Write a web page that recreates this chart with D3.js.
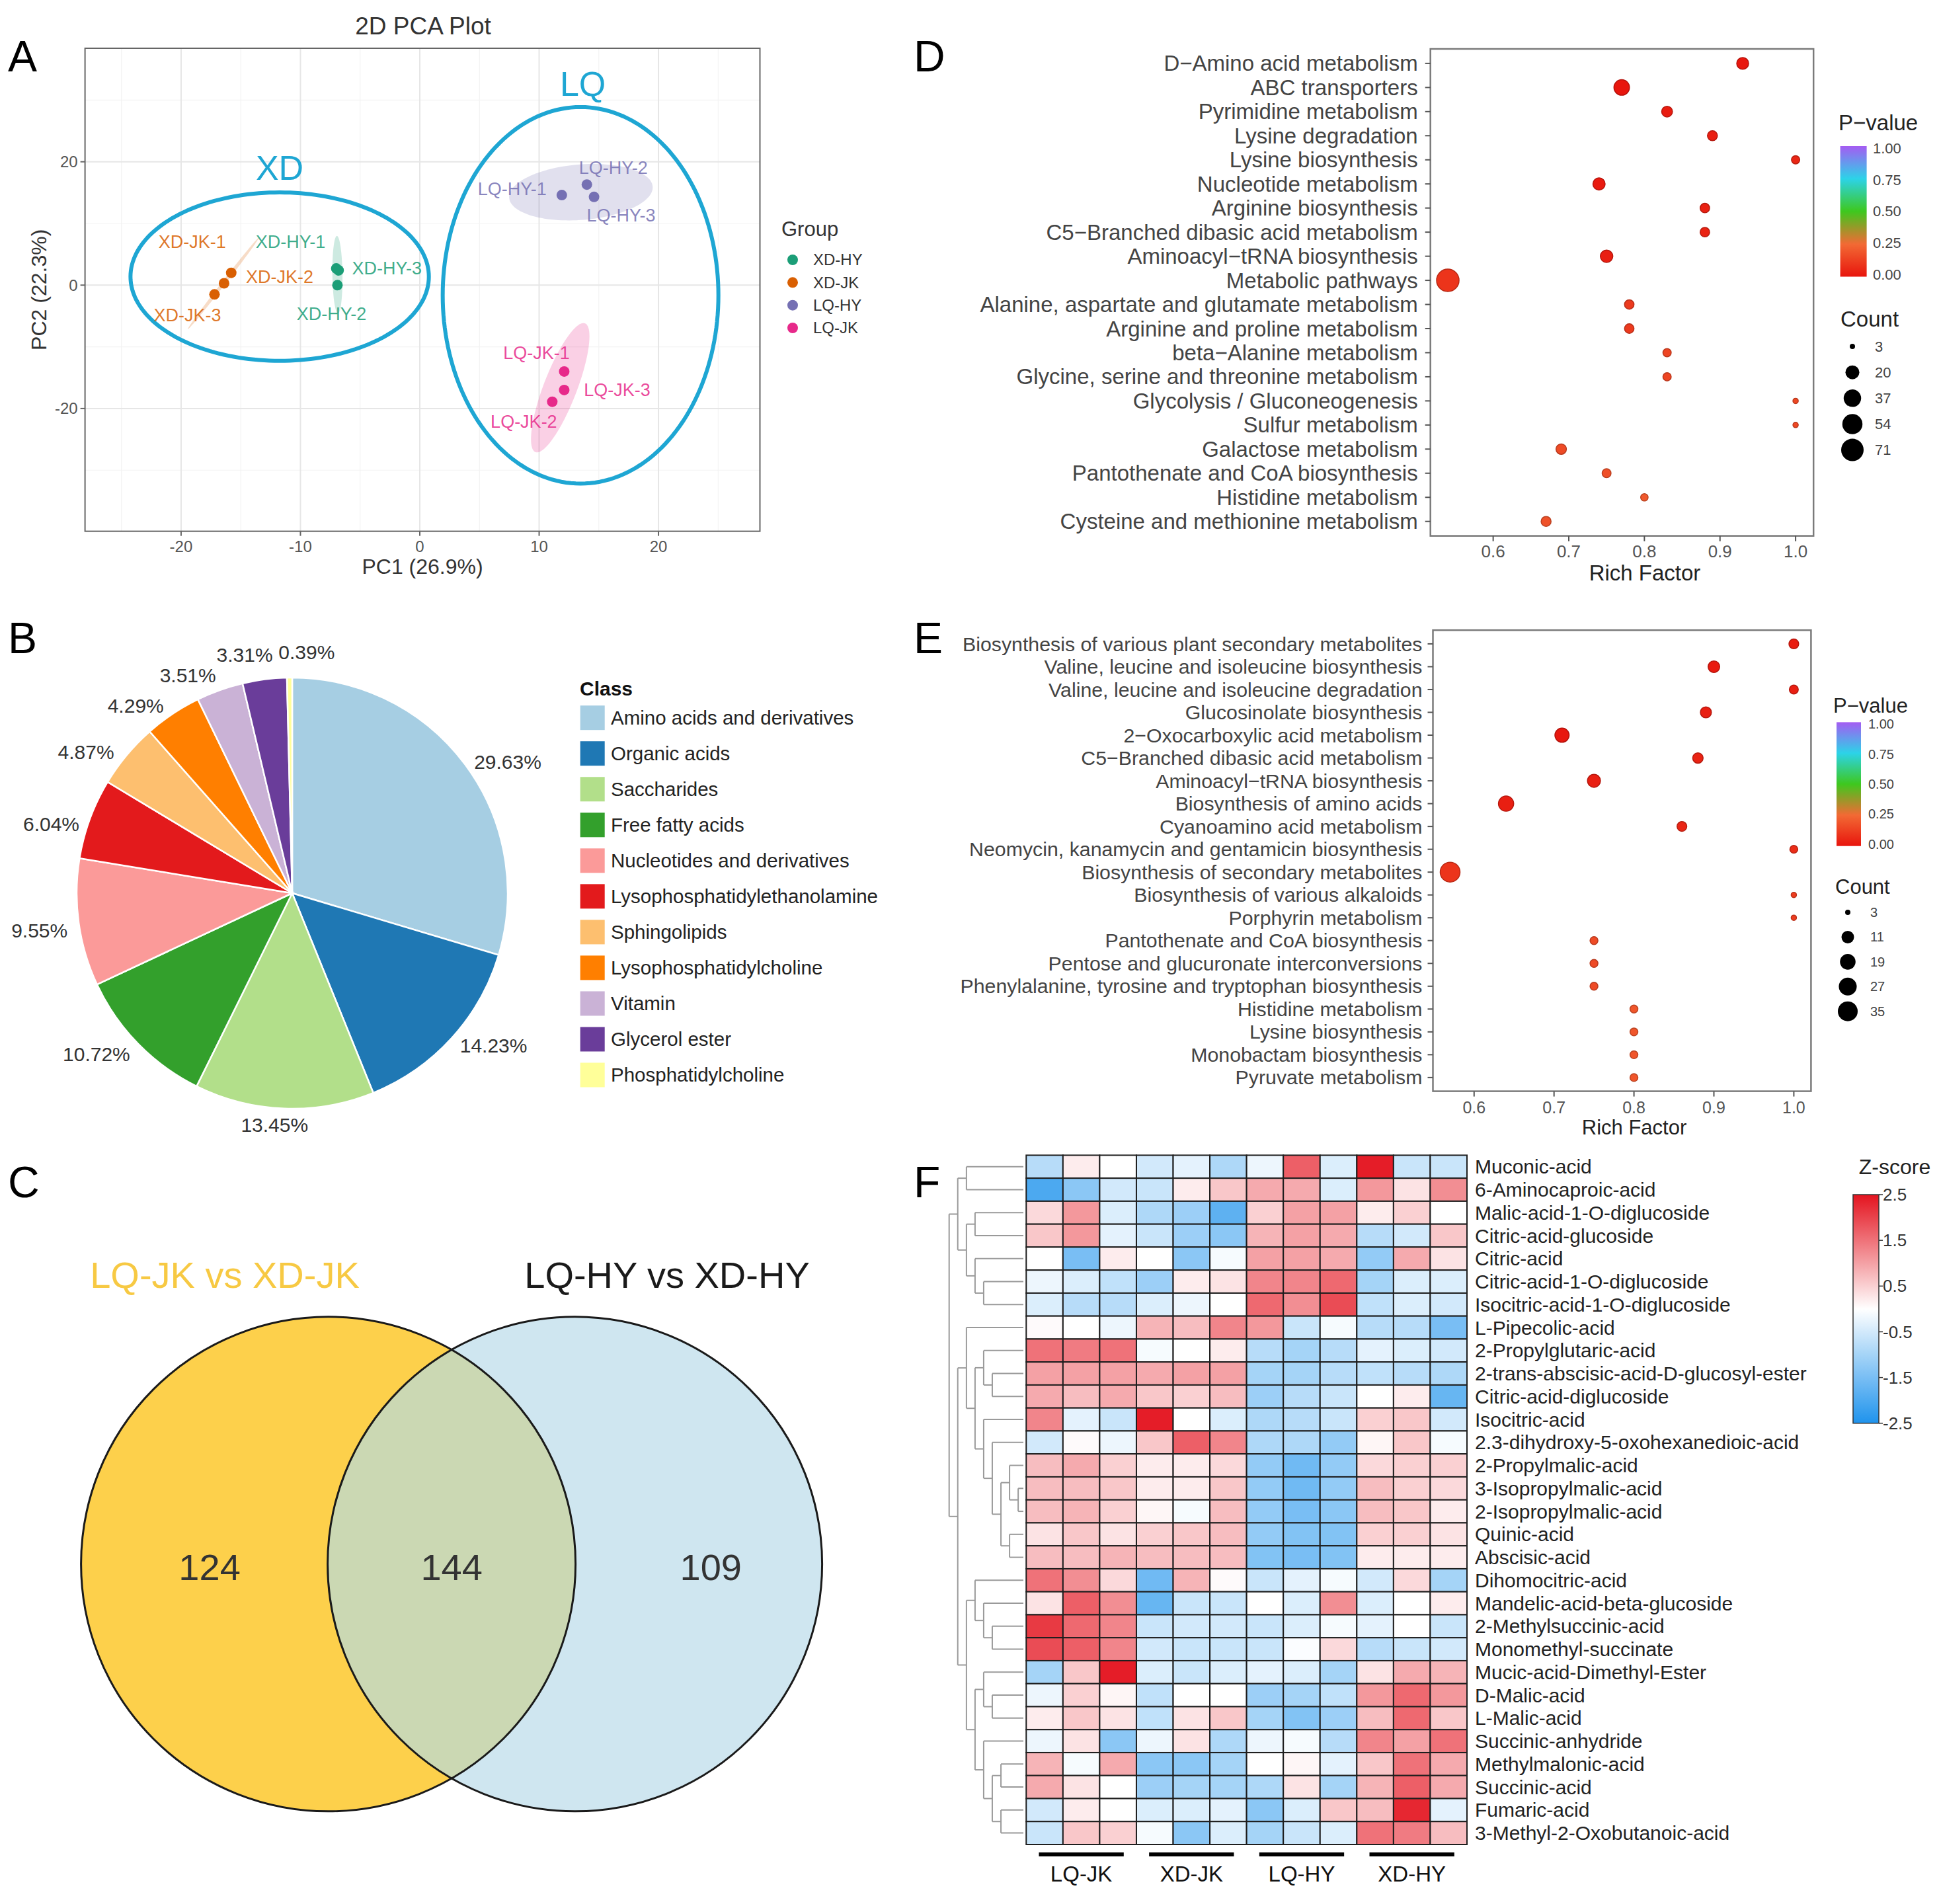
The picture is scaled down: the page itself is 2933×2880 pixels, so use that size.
<!DOCTYPE html>
<html>
<head>
<meta charset="utf-8">
<script src="https://cdn.jsdelivr.net/npm/d3@7/dist/d3.min.js"></script>
<style>
html,body{margin:0;padding:0;background:#fff;}
svg{display:block;}
text{font-family:"Liberation Sans",Arial,Helvetica,sans-serif;}
</style>
</head>
<body>
<svg id="fig" width="2933" height="2880" xmlns="http://www.w3.org/2000/svg"></svg>
<script>
/* ================= DATA ================= */
// Panel A – PCA
const pcaSamples = ["XD-JK-1","XD-JK-2","XD-JK-3","XD-HY-1","XD-HY-2","XD-HY-3","LQ-HY-1","LQ-HY-2","LQ-HY-3","LQ-JK-1","LQ-JK-2","LQ-JK-3"];
const pcaSampleGroup = ["XD-JK","XD-JK","XD-JK","XD-HY","XD-HY","XD-HY","LQ-HY","LQ-HY","LQ-HY","LQ-JK","LQ-JK","LQ-JK"];
const pcaPC1 = [-15.8,-16.4,-17.2,-7.0,-6.9,-6.8,11.9,14.0,14.6,12.1,11.1,12.1];
const pcaPC2 = [2.0,0.3,-1.5,2.7,0.0,2.4,14.6,16.3,14.3,-14.0,-18.9,-17.0];
const pcaGroups = ["XD-HY","XD-JK","LQ-HY","LQ-JK"];
const pcaTicksX = [-20,-10,0,10,20];
const pcaTicksY = [-20,0,20];
const pcaClusters = ["XD","LQ"];

// Panel B – class composition
const pieClasses = ["Amino acids and derivatives","Organic acids","Saccharides","Free fatty acids","Nucleotides and derivatives","Lysophosphatidylethanolamine","Sphingolipids","Lysophosphatidylcholine","Vitamin","Glycerol ester","Phosphatidylcholine"];
const pieShares = [29.63,14.23,13.45,10.72,9.55,6.04,4.87,4.29,3.51,3.31,0.39];

// Panel C – Venn
const vennSets = ["LQ-JK vs XD-JK","LQ-HY vs XD-HY"];
const vennCounts = [124,144,109]; // left only, shared, right only

// Panel D – KEGG enrichment (JK)
const dPathways = ["D\u2212Amino acid metabolism","ABC transporters","Pyrimidine metabolism","Lysine degradation","Lysine biosynthesis","Nucleotide metabolism","Arginine biosynthesis","C5\u2212Branched dibasic acid metabolism","Aminoacyl\u2212tRNA biosynthesis","Metabolic pathways","Alanine, aspartate and glutamate metabolism","Arginine and proline metabolism","beta\u2212Alanine metabolism","Glycine, serine and threonine metabolism","Glycolysis / Gluconeogenesis","Sulfur metabolism","Galactose metabolism","Pantothenate and CoA biosynthesis","Histidine metabolism","Cysteine and methionine metabolism"];
const dRich = [0.93,0.77,0.83,0.89,1.0,0.74,0.88,0.88,0.75,0.54,0.78,0.78,0.83,0.83,1.0,1.0,0.69,0.75,0.80,0.67];
const dCount = [13,27,10,8,5,14,7,7,15,71,7,7,5,5,3,3,9,6,4,8];
const dPvalue = [0.005,0.002,0.02,0.03,0.05,0.015,0.035,0.04,0.03,0.09,0.11,0.11,0.14,0.14,0.15,0.15,0.16,0.17,0.20,0.18];
const dCountBreaks = [3,20,37,54,71];

// Panel E – KEGG enrichment (HY)
const ePathways = ["Biosynthesis of various plant secondary metabolites","Valine, leucine and isoleucine biosynthesis","Valine, leucine and isoleucine degradation","Glucosinolate biosynthesis","2\u2212Oxocarboxylic acid metabolism","C5\u2212Branched dibasic acid metabolism","Aminoacyl\u2212tRNA biosynthesis","Biosynthesis of amino acids","Cyanoamino acid metabolism","Neomycin, kanamycin and gentamicin biosynthesis","Biosynthesis of secondary metabolites","Biosynthesis of various alkaloids","Porphyrin metabolism","Pantothenate and CoA biosynthesis","Pentose and glucuronate interconversions","Phenylalanine, tyrosine and tryptophan biosynthesis","Histidine metabolism","Lysine biosynthesis","Monobactam biosynthesis","Pyruvate metabolism"];
const eRich = [1.0,0.90,1.0,0.89,0.71,0.88,0.75,0.64,0.86,1.0,0.57,1.0,1.0,0.75,0.75,0.75,0.80,0.80,0.80,0.80];
const eCount = [6,9,5,8,15,7,12,18,6,4,35,3,3,4,4,4,4,4,4,4];
const ePvalue = [0.02,0.015,0.03,0.03,0.01,0.04,0.03,0.03,0.05,0.07,0.09,0.12,0.12,0.16,0.16,0.16,0.19,0.19,0.19,0.19];
const eCountBreaks = [3,11,19,27,35];

const pBreaks = [0,0.25,0.5,0.75,1];
const richTicks = [0.6,0.7,0.8,0.9,1.0];

// Panel F – heatmap
const fMetabolites = ["Muconic-acid","6-Aminocaproic-acid","Malic-acid-1-O-diglucoside","Citric-acid-glucoside","Citric-acid","Citric-acid-1-O-diglucoside","Isocitric-acid-1-O-diglucoside","L-Pipecolic-acid","2-Propylglutaric-acid","2-trans-abscisic-acid-D-glucosyl-ester","Citric-acid-diglucoside","Isocitric-acid","2.3-dihydroxy-5-oxohexanedioic-acid","2-Propylmalic-acid","3-Isopropylmalic-acid","2-Isopropylmalic-acid","Quinic-acid","Abscisic-acid","Dihomocitric-acid","Mandelic-acid-beta-glucoside","2-Methylsuccinic-acid","Monomethyl-succinate","Mucic-acid-Dimethyl-Ester","D-Malic-acid","L-Malic-acid","Succinic-anhydride","Methylmalonic-acid","Succinic-acid","Fumaric-acid","3-Methyl-2-Oxobutanoic-acid"];
const fGroups = ["LQ-JK","XD-JK","LQ-HY","XD-HY"];
const fZ = [
 [-0.8,0.2,0.0,-0.5,-0.3,-0.9,-0.2,1.7,-0.4,2.4,-0.6,-0.6],
 [-2.0,-1.3,-0.5,-0.6,0.2,0.6,0.9,0.9,-0.4,1.1,0.3,1.2],
 [0.4,1.1,-0.4,-0.9,-1.1,-1.8,0.5,1.0,1.0,0.2,0.5,0.0],
 [0.6,1.1,-0.3,-0.6,-1.1,-1.3,0.8,1.0,0.9,-0.8,-0.5,0.6],
 [0.0,-1.5,0.2,0.0,-1.3,-0.1,1.0,1.0,0.9,-1.2,0.9,0.3],
 [-0.2,-0.4,-0.7,-1.1,0.2,0.3,1.3,1.3,1.6,-1.0,-0.4,-0.4],
 [-0.4,-0.8,-0.8,-0.4,-0.2,0.0,1.6,1.2,1.9,-0.7,-0.4,-0.5],
 [0.05,0.0,-0.2,0.8,0.7,1.3,1.1,-0.6,-0.1,-0.8,-0.8,-1.5],
 [1.5,1.4,1.5,-0.1,0.0,0.2,-0.8,-1.0,-0.8,-0.3,-0.4,-0.5],
 [1.0,1.0,1.0,0.9,1.0,1.0,-1.0,-1.0,-0.8,-0.7,-0.8,-0.9],
 [0.9,0.7,0.9,0.6,0.5,0.7,-1.1,-0.8,-0.6,0.0,0.2,-1.7],
 [1.3,-0.3,-0.6,2.4,0.0,-0.4,-0.9,-0.8,-0.6,0.5,0.6,-0.5],
 [-0.5,0.05,-0.2,0.6,1.7,1.3,-0.9,-0.9,-1.2,0.1,0.6,-0.1],
 [0.7,0.9,0.5,0.2,0.2,0.4,-1.2,-1.6,-1.2,0.4,0.5,0.5],
 [0.7,0.7,0.6,0.2,0.2,0.6,-1.2,-1.6,-1.2,0.7,0.5,0.4],
 [0.7,0.8,0.5,0.1,-0.1,0.7,-1.2,-1.5,-1.3,0.7,0.6,0.2],
 [0.3,0.6,0.3,0.5,0.6,0.7,-1.2,-1.4,-1.4,0.5,0.5,0.3],
 [0.7,0.7,0.8,0.7,0.7,0.7,-1.4,-1.5,-1.4,0.2,0.2,0.2],
 [1.5,1.2,0.4,-1.6,0.8,0.05,-0.6,-0.3,-0.1,-0.5,0.4,-1.0],
 [0.3,1.7,1.2,-1.7,-0.6,-0.6,0.0,-0.4,1.2,-0.4,0.0,0.2],
 [2.1,1.6,1.3,-0.6,-0.5,-0.5,-0.6,-0.4,-0.1,-0.3,0.0,-0.6],
 [1.9,1.7,1.3,-0.5,-0.6,-0.6,-0.6,-0.05,0.4,-0.8,-0.6,-0.5],
 [-1.0,0.6,2.4,-0.4,-0.6,-0.4,-0.3,-0.4,-1.0,0.3,0.9,0.8],
 [-0.2,0.5,0.1,-0.7,0.0,0.0,-1.1,-1.0,-0.7,1.1,1.6,1.1],
 [0.2,0.6,0.3,-0.7,0.3,0.6,-1.0,-1.4,-1.1,0.7,1.6,0.6],
 [-0.2,0.3,-1.3,-0.2,0.3,-0.9,-0.2,-0.1,-0.8,1.3,1.0,1.5],
 [0.8,-0.1,0.9,-1.3,-1.3,-1.0,0.0,0.1,-0.3,0.6,1.5,0.9],
 [0.9,0.3,0.0,-1.1,-1.0,-1.0,-0.9,0.3,-1.0,0.8,1.7,0.9],
 [-0.5,0.2,0.0,-0.4,-0.4,-0.3,-1.3,-0.4,0.6,0.7,2.3,-0.3],
 [-0.6,0.6,0.5,-0.1,-1.3,-0.4,-1.0,-0.6,-0.4,1.5,1.4,0.7]
];
const zBreaks = [2.5,1.5,0.5,-0.5,-1.5,-2.5];
// row dendrogram (leaf = row index, h = relative merge height)
const fTree = {h:1.0,c:[
  {h:0.884,c:[{h:0.767,c:[0,1]},{h:0.767,c:[{h:0.651,c:[2,3]},{h:0.651,c:[4,{h:0.535,c:[5,6]}]}]}]},
  {h:0.884,c:[
    {h:0.767,c:[7,{h:0.651,c:[{h:0.535,c:[8,{h:0.419,c:[9,10]}]},{h:0.535,c:[11,{h:0.419,c:[12,{h:0.302,c:[{h:0.186,c:[13,{h:0.07,c:[14,15]}]},{h:0.186,c:[16,17]}]}]}]}]}]},
    {h:0.767,c:[
      {h:0.651,c:[18,{h:0.535,c:[19,{h:0.419,c:[20,21]}]}]},
      {h:0.651,c:[{h:0.535,c:[22,{h:0.419,c:[23,24]}]},{h:0.535,c:[25,{h:0.419,c:[{h:0.302,c:[26,27]},{h:0.302,c:[28,29]}]}]}]}
    ]}
  ]}
]};

/* ================= STYLE / LAYOUT ================= */
const groupColors = {"XD-HY":"#1b9e77","XD-JK":"#d95f02","LQ-HY":"#7570b3","LQ-JK":"#e7298a"};
const pieColors = ["#a6cee3","#1f78b4","#b2df8a","#33a02c","#fb9a99","#e31a1c","#fdbf6f","#ff7f00","#cab2d6","#6a3d9a","#ffff99"];
const pColorStops = ["#e8150d","#f26a34","#3ec81e","#2cd3e8","#a45cf2"];
const clusterColor = "#1ea6d3";
const TXT = "#3a3a3a";

const svg = d3.select("#fig");
const defs = svg.append("defs");
svg.append("rect").attr("width",2933).attr("height",2880).attr("fill","#fff");

function text(g,x,y,s,o={}){
  const t=g.append("text").attr("x",x).attr("y",y).text(s)
    .attr("font-size",o.size||24).attr("fill",o.fill||TXT)
    .attr("text-anchor",o.anchor||"start");
  if(o.weight) t.attr("font-weight",o.weight);
  if(o.dy) t.attr("dy",o.dy);
  if(o.transform) t.attr("transform",o.transform);
  return t;
}

// panel letters
const panelLetters=["A","B","C","D","E","F"];
const panelLetterPos=[[12,108],[12,988],[12,1811],[1382,108],[1382,988],[1382,1811]];
panelLetters.forEach((L,i)=>text(svg,panelLetterPos[i][0],panelLetterPos[i][1],L,{size:66,fill:"#000"}));

/* ================= PANEL A ================= */
(function(){
  const g=svg.append("g");
  const box={x0:128.6,x1:1149.5,y0:73,y1:803.6};
  const x=d3.scaleLinear().domain([-28.05,28.5]).range([box.x0,box.x1]);
  const y=d3.scaleLinear().domain([-39.9,38.4]).range([box.y1,box.y0]);
  defs.append("clipPath").attr("id","clipA").append("rect")
    .attr("x",box.x0).attr("y",box.y0).attr("width",box.x1-box.x0).attr("height",box.y1-box.y0);
  const pg=g.append("g").attr("clip-path","url(#clipA)");
  // grid
  [-25,-15,-5,5,15,25].forEach(v=>pg.append("line").attr("x1",x(v)).attr("x2",x(v)).attr("y1",box.y0).attr("y2",box.y1).attr("stroke","#f3f3f3").attr("stroke-width",1.2));
  [-30,-10,10,30].forEach(v=>pg.append("line").attr("y1",y(v)).attr("y2",y(v)).attr("x1",box.x0).attr("x2",box.x1).attr("stroke","#f3f3f3").attr("stroke-width",1.2));
  pcaTicksX.forEach(v=>pg.append("line").attr("x1",x(v)).attr("x2",x(v)).attr("y1",box.y0).attr("y2",box.y1).attr("stroke","#e6e6e6").attr("stroke-width",2));
  pcaTicksY.forEach(v=>pg.append("line").attr("y1",y(v)).attr("y2",y(v)).attr("x1",box.x0).attr("x2",box.x1).attr("stroke","#e6e6e6").attr("stroke-width",2));

  const K=Math.sqrt(18); // sqrt(2*qf(0.90,2,2))
  function ellipse(xs,ys){
    const n=xs.length,mx=d3.mean(xs),my=d3.mean(ys);
    let sxx=0,syy=0,sxy=0;
    for(let i=0;i<n;i++){const dx=xs[i]-mx,dy=ys[i]-my;sxx+=dx*dx;syy+=dy*dy;sxy+=dx*dy;}
    sxx/=(n-1);syy/=(n-1);sxy/=(n-1);
    const tr=sxx+syy,det=sxx*syy-sxy*sxy,disc=Math.sqrt(Math.max(tr*tr/4-det,0));
    const l1=tr/2+disc,l2=Math.max(tr/2-disc,0);
    let vx,vy; if(Math.abs(sxy)>1e-12){vx=l1-syy;vy=sxy;} else if(sxx>=syy){vx=1;vy=0;} else {vx=0;vy=1;}
    const nm=Math.hypot(vx,vy);vx/=nm;vy/=nm;
    const a=K*Math.sqrt(l1),b=K*Math.sqrt(l2);
    return d3.range(0,121).map(i=>{const t=2*Math.PI*i/120,c=Math.cos(t),s=Math.sin(t);
      return [mx+a*c*vx-b*s*vy, my+a*c*vy+b*s*vx];});
  }
  const line=d3.line().x(d=>x(d[0])).y(d=>y(d[1]));
  pcaGroups.forEach(gr=>{
    const idx=pcaSampleGroup.map((s,i)=>s===gr?i:-1).filter(i=>i>=0);
    const pts=ellipse(idx.map(i=>pcaPC1[i]),idx.map(i=>pcaPC2[i]));
    pg.append("path").attr("d",line(pts)+"Z").attr("fill",groupColors[gr]).attr("fill-opacity",0.22).attr("stroke","none");
  });
  // cluster annotation ellipses (data units)
  const clusterShape={XD:{cx:-11.74,cy:1.38,rx:12.5,ry:13.65,lx:-11.74,ly:19.1},LQ:{cx:13.47,cy:-1.65,rx:11.55,ry:30.52,lx:13.66,ly:32.65}};
  pcaClusters.forEach(k=>{
    const s=clusterShape[k];
    const pts=d3.range(0,181).map(i=>{const t=2*Math.PI*i/180;return [s.cx+s.rx*Math.cos(t),s.cy+s.ry*Math.sin(t)];});
    pg.append("path").attr("d",line(pts)+"Z").attr("fill","none").attr("stroke",clusterColor).attr("stroke-width",6);
    text(g,x(s.lx),y(s.ly),k,{size:52,fill:clusterColor,anchor:"middle",dy:"0.36em"});
  });
  // points
  pcaSamples.forEach((s,i)=>{
    pg.append("circle").attr("cx",x(pcaPC1[i])).attr("cy",y(pcaPC2[i])).attr("r",8).attr("fill",groupColors[pcaSampleGroup[i]]);
  });
  const pcaLabelOffset=[[-59,-47],[84,-10],[-41,31],[-69,-41],[-9,43],[73,-3],[-75,-10],[40,-26],[41,28],[-42,-28],[-43,30],[80,0]];
  pcaSamples.forEach((s,i)=>{
    const px=x(pcaPC1[i]),py=y(pcaPC2[i]),o=pcaLabelOffset[i];
    text(g,px+o[0],py+o[1],s,{size:27,fill:groupColors[pcaSampleGroup[i]],anchor:"middle",dy:"0.35em"}).attr("fill-opacity",0.85);
  });
  // frame
  g.append("rect").attr("x",box.x0).attr("y",box.y0).attr("width",box.x1-box.x0).attr("height",box.y1-box.y0).attr("fill","none").attr("stroke","#666").attr("stroke-width",2);
  pcaTicksX.forEach(v=>{
    g.append("line").attr("x1",x(v)).attr("x2",x(v)).attr("y1",box.y1).attr("y2",box.y1+7).attr("stroke","#666").attr("stroke-width",2);
    text(g,x(v),box.y1+31,v===0?"0":String(v),{size:24,fill:"#555",anchor:"middle"});
  });
  pcaTicksY.forEach(v=>{
    g.append("line").attr("x1",box.x0-7).attr("x2",box.x0).attr("y1",y(v)).attr("y2",y(v)).attr("stroke","#666").attr("stroke-width",2);
    text(g,box.x0-11,y(v),String(v),{size:24,fill:"#555",anchor:"end",dy:"0.35em"});
  });
  text(g,(box.x0+box.x1)/2,868,"PC1 (26.9%)",{size:32,fill:"#333",anchor:"middle"});
  text(g,0,0,"PC2 (22.3%)",{size:32,fill:"#333",anchor:"middle",transform:`translate(70,${(box.y0+box.y1)/2}) rotate(-90)`});
  text(g,640,52,"2D PCA Plot",{size:37,fill:"#333",anchor:"middle"});
  // legend
  text(g,1182,357,"Group",{size:31,fill:"#333"});
  const legY=d3.scalePoint().domain(pcaGroups).range([393,496]);
  pcaGroups.forEach(gr=>{
    g.append("circle").attr("cx",1199).attr("cy",legY(gr)).attr("r",8).attr("fill",groupColors[gr]);
    text(g,1230,legY(gr),gr,{size:24,fill:"#333",dy:"0.35em"});
  });
})();

/* ================= PANEL B ================= */
(function(){
  const g=svg.append("g");
  const cx=442,cy=1351,R=326;
  const arcs=d3.pie().sort(null).value(d=>d)(pieShares);
  const arc=d3.arc().innerRadius(0).outerRadius(R);
  g.selectAll("path.sl").data(arcs).join("path").attr("class","sl")
    .attr("transform",`translate(${cx},${cy})`).attr("d",arc)
    .attr("fill",(d,i)=>pieColors[i]).attr("stroke","#fff").attr("stroke-width",2.5);
  const nudge=[[0,6],[0,0],[-14,8],[0,4],[0,10],[0,14],[-6,6],[-4,2],[0,-6],[-28,-20],[26,-22]];
  const RL=343;
  arcs.forEach((d,i)=>{
    const a=(d.startAngle+d.endAngle)/2, s=Math.sin(a), c=Math.cos(a);
    const anchor = s>0.3?"start":(s<-0.14?"end":"middle");
    text(g,cx+RL*s+nudge[i][0],cy-RL*c+nudge[i][1],pieShares[i].toFixed(2)+"%",{size:30,fill:"#333",anchor:anchor,dy:"0.35em"});
  });
  // legend
  text(g,877,1052,"Class",{size:30,fill:"#111",weight:"bold"});
  const ly=d3.scalePoint().domain(pieClasses).range([1085.7,1626]);
  pieClasses.forEach((c,i)=>{
    g.append("rect").attr("x",877.7).attr("y",ly(c)-18.5).attr("width",37).attr("height",37).attr("fill",pieColors[i]);
    text(g,924,ly(c),c,{size:29.5,fill:"#222",dy:"0.35em"});
  });
})();

/* ================= PANEL C ================= */
(function(){
  const g=svg.append("g");
  const R=374, c1=[496.6,2365.8], c2=[869.6,2365.8];
  defs.append("clipPath").attr("id","clipVennL").append("circle").attr("cx",c1[0]).attr("cy",c1[1]).attr("r",R);
  g.append("circle").attr("cx",c1[0]).attr("cy",c1[1]).attr("r",R).attr("fill","#FDD04B");
  g.append("circle").attr("cx",c2[0]).attr("cy",c2[1]).attr("r",R).attr("fill","#CFE6F0");
  g.append("circle").attr("cx",c2[0]).attr("cy",c2[1]).attr("r",R).attr("fill","#CBD8B3").attr("clip-path","url(#clipVennL)");
  [c1,c2].forEach(c=>g.append("circle").attr("cx",c[0]).attr("cy",c[1]).attr("r",R).attr("fill","none").attr("stroke","#1a1a1a").attr("stroke-width",3));
  text(g,340,1948,vennSets[0],{size:56,fill:"#F7C943",anchor:"middle"});
  text(g,1009,1948,vennSets[1],{size:56,fill:"#1a1a1a",anchor:"middle"});
  const pos=[c1[0]-0.48*R,(c1[0]+c2[0])/2,c2[0]+0.55*R];
  vennCounts.forEach((v,i)=>text(g,pos[i],c1[1]+5,String(v),{size:56,fill:"#333",anchor:"middle",dy:"0.35em"}));
})();

/* ================= PANELS D & E ================= */
const pColor=d3.scaleLinear().domain(pBreaks).range(pColorStops);
function drawEnrich(cfg){
  const g=svg.append("g");
  const [x0,y0,x1,y1]=cfg.box;
  const x=d3.scaleLinear().domain(cfg.xDomain).range([x0,x1]);
  const y=d3.scalePoint().domain(cfg.cats).range([y0,y1]).padding(0.6);
  const cmin=d3.min(cfg.countBreaks),cmax=d3.max(cfg.countBreaks);
  const r=c=>cfg.rRange[0]+(cfg.rRange[1]-cfg.rRange[0])*Math.sqrt((c-cmin)/(cmax-cmin));
  g.append("rect").attr("x",x0).attr("y",y0).attr("width",x1-x0).attr("height",y1-y0).attr("fill","#fff").attr("stroke","#7a7a7a").attr("stroke-width",2.5);
  cfg.cats.forEach((c,i)=>{
    g.append("line").attr("x1",x0-8).attr("x2",x0).attr("y1",y(c)).attr("y2",y(c)).attr("stroke","#555").attr("stroke-width",2);
    text(g,x0-cfg.labelGap,y(c),c,{size:cfg.labelSize,fill:"#444",anchor:"end",dy:"0.35em"});
  });
  richTicks.forEach(v=>{
    g.append("line").attr("x1",x(v)).attr("x2",x(v)).attr("y1",y1).attr("y2",y1+8).attr("stroke","#555").attr("stroke-width",2);
    text(g,x(v),cfg.tickY,v.toFixed(1),{size:cfg.tickSize,fill:"#555",anchor:"middle"});
  });
  text(g,cfg.titleX,cfg.titleY,"Rich Factor",{size:cfg.titleSize,fill:"#222",anchor:"middle"});
  cfg.cats.forEach((c,i)=>{
    const col=pColor(cfg.p[i]);
    g.append("circle").attr("cx",x(cfg.rich[i])).attr("cy",y(c)).attr("r",r(cfg.count[i]))
      .attr("fill",col).attr("stroke",d3.color(col).darker(0.7)).attr("stroke-width",1.5);
  });
  // legend: p-value colorbar
  const L=cfg.leg;
  text(g,L.px,L.pTitleY,"P\u2212value",{size:L.titleSize,fill:"#222"});
  const gid="grad"+cfg.id;
  const grad=defs.append("linearGradient").attr("id",gid).attr("x1",0).attr("y1",1).attr("x2",0).attr("y2",0);
  pBreaks.forEach(b=>grad.append("stop").attr("offset",b).attr("stop-color",pColor(b)));
  g.append("rect").attr("x",L.barX).attr("y",L.barY0).attr("width",L.barW).attr("height",L.barY1-L.barY0).attr("fill",`url(#${gid})`);
  const py=d3.scaleLinear().domain([0,1]).range([L.barY1-3,L.barY0+3]);
  pBreaks.forEach(b=>text(g,L.labX,py(b),b.toFixed(2),{size:L.labSize,fill:"#444",dy:"0.35em"}));
  text(g,L.px+3,L.cTitleY,"Count",{size:L.titleSize,fill:"#222"});
  const cy=d3.scalePoint().domain(cfg.countBreaks).range([L.cY0,L.cY1]);
  cfg.countBreaks.forEach(b=>{
    g.append("circle").attr("cx",L.dotX).attr("cy",cy(b)).attr("r",r(b)).attr("fill","#000");
    text(g,L.cLabX,cy(b),String(b),{size:L.labSize,fill:"#444",dy:"0.35em"});
  });
}
drawEnrich({id:"D",cats:dPathways,rich:dRich,count:dCount,p:dPvalue,countBreaks:dCountBreaks,
  box:[2163.7,74,2743.2,810.6],xDomain:[0.517,1.0237],rRange:[4,17],labelSize:33,labelGap:19,tickSize:26,tickY:843,
  titleX:2488,titleY:878,titleSize:33,
  leg:{px:2781,pTitleY:197,titleSize:33,barX:2783.6,barW:40,barY0:221,barY1:418.5,labX:2833,labSize:22,
       cTitleY:494,cY0:524,cY1:680.6,dotX:2802,cLabX:2836}});
drawEnrich({id:"E",cats:ePathways,rich:eRich,count:eCount,p:ePvalue,countBreaks:eCountBreaks,
  box:[2167.5,953.2,2739.4,1650.6],xDomain:[0.5485,1.0215],rRange:[4,15],labelSize:30.3,labelGap:16,tickSize:25,tickY:1684,
  titleX:2472,titleY:1716,titleSize:31,
  leg:{px:2773,pTitleY:1078,titleSize:31,barX:2778,barW:37,barY0:1092.4,barY1:1279.7,labX:2826,labSize:20,
       cTitleY:1352,cY0:1380,cY1:1529.7,dotX:2795,cLabX:2829}});

/* ================= PANEL F ================= */
(function(){
  const g=svg.append("g");
  const nCol=fZ[0].length;
  const X0=1552.3,X1=2219,Y0=1747.4,Y1=2790;
  const x=d3.scaleBand().domain(d3.range(nCol)).range([X0,X1]);
  const y=d3.scaleBand().domain(d3.range(fMetabolites.length)).range([Y0,Y1]);
  const zc=d3.scaleLinear().domain([-2.5,0,2.5]).range(["#1F93EC","#FFFFFF","#E4141F"]).clamp(true);
  fZ.forEach((row,i)=>row.forEach((v,j)=>{
    g.append("rect").attr("x",x(j)).attr("y",y(i)).attr("width",x.bandwidth()).attr("height",y.bandwidth())
      .attr("fill",zc(v)).attr("stroke","#1e1e1e").attr("stroke-width",2);
  }));
  fMetabolites.forEach((m,i)=>text(g,2231,y(i)+y.bandwidth()/2,m,{size:30,fill:"#222",dy:"0.35em"}));
  // dendrogram
  const leafX=1548, rootX=1435.7;
  const hx=h=>leafX-h*(leafX-rootX);
  const dg=g.append("g").attr("stroke","#9a9a9a").attr("stroke-width",2).attr("fill","none");
  function lay(node){
    if(typeof node==="number") return {y:y(node)+y.bandwidth()/2,h:0};
    const a=lay(node.c[0]),b=lay(node.c[1]);
    const xn=hx(node.h);
    dg.append("line").attr("x1",xn).attr("x2",xn).attr("y1",a.y).attr("y2",b.y);
    [a,b].forEach(ch=>dg.append("line").attr("x1",xn).attr("x2",hx(ch.h)).attr("y1",ch.y).attr("y2",ch.y));
    return {y:(a.y+b.y)/2,h:node.h};
  }
  lay(fTree);
  // group bars & labels
  const per=nCol/fGroups.length, gw=x.bandwidth()*per;
  fGroups.forEach((gr,k)=>{
    const cxg=X0+gw*k+gw/2;
    g.append("line").attr("x1",cxg-gw*0.385).attr("x2",cxg+gw*0.385).attr("y1",2805).attr("y2",2805).attr("stroke","#000").attr("stroke-width",6);
    text(g,cxg,2846,gr,{size:33,fill:"#111",anchor:"middle"});
  });
  // colorbar
  text(g,2866,1776,"Z-score",{size:32,fill:"#222",anchor:"middle"});
  const grad=defs.append("linearGradient").attr("id","gradZ").attr("x1",0).attr("y1",1).attr("x2",0).attr("y2",0);
  d3.range(-2.5,2.51,0.5).forEach(v=>grad.append("stop").attr("offset",(v+2.5)/5).attr("stop-color",zc(v)));
  const bx=2803,bw=39,by0=1807,by1=2152.8;
  g.append("rect").attr("x",bx).attr("y",by0).attr("width",bw).attr("height",by1-by0).attr("fill","url(#gradZ)").attr("stroke","#333").attr("stroke-width",1.5);
  const zy=d3.scaleLinear().domain([-2.5,2.5]).range([by1,by0]);
  zBreaks.forEach(b=>{
    g.append("line").attr("x1",bx+bw).attr("x2",bx+bw+6).attr("y1",zy(b)).attr("y2",zy(b)).attr("stroke","#333").attr("stroke-width",1.5);
    text(g,bx+bw+6,zy(b),String(b),{size:26,fill:"#333",dy:"0.35em"});
  });
})();
</script>
</body>
</html>
